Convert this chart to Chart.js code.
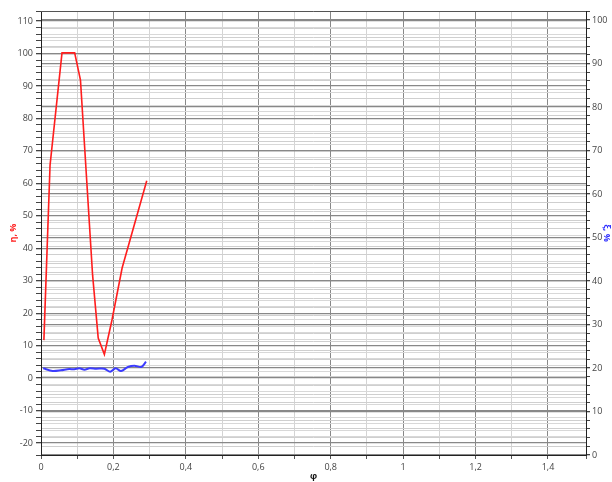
<!DOCTYPE html>
<html>
<head>
<meta charset="utf-8">
<script src="https://cdn.jsdelivr.net/npm/chart.js@4.4.1/dist/chart.umd.min.js"></script>
<style>
  html, body { margin: 0; padding: 0; background: #fff; }
  #wrap { width: 612px; height: 482px; position: relative; }
</style>
</head>
<body>
<div id="wrap"><canvas id="effChart"></canvas></div>
<script>
// red series: efficiency (left axis)
const etaX = [0.008, 0.025, 0.058, 0.093, 0.109, 0.1425, 0.158, 0.175, 0.196, 0.224, 0.292];
const etaValues = [11.7, 65.6, 100.2, 100.2, 91.8, 31.7, 12.3, 7.3, 17.9, 33.9, 60.8];

// blue series (right axis)
const xiX = [0.006, 0.032, 0.055, 0.078, 0.092, 0.106, 0.12, 0.134, 0.152, 0.175, 0.191, 0.206, 0.221, 0.24, 0.258, 0.277, 0.29];
const xiValues = [19.93, 19.31, 19.47, 19.77, 19.7, 19.93, 19.61, 19.93, 19.84, 19.84, 19.15, 19.93, 19.31, 20.23, 20.53, 20.23, 21.45];

const xLabelStep = 0.2;
const leftLabelStep = 10;
const rightLabelStep = 10;

const toPoints = (xs, ys) => xs.map((x, i) => ({ x: x, y: ys[i] }));

const isMajor = (v, step) => Math.abs(v / step - Math.round(v / step)) < 1e-6;

const tickFont = { family: "'Open Sans', 'DejaVu Sans', sans-serif", size: 9 };
const titleFont = { family: "'Open Sans', 'DejaVu Sans', sans-serif", size: 9, weight: 'bold' };

const frame = {
    id: 'frame',
    afterDraw(chart) {
        const { ctx, chartArea: a } = chart;
        ctx.save();
        ctx.strokeStyle = '#555';
        ctx.lineWidth = 1;
        ctx.beginPath();
        ctx.moveTo(a.left, a.top + 0.5);
        ctx.lineTo(a.right, a.top + 0.5);
        ctx.stroke();
        ctx.restore();
    }
};

const ctx = document.getElementById('effChart').getContext('2d');
new Chart(ctx, {
    type: 'line',
    data: {
        datasets: [
            {
                label: 'η',
                data: toPoints(etaX, etaValues),
                borderColor: 'rgba(255, 30, 30, 1)',
                borderWidth: 1.6,
                pointRadius: 0,
                tension: 0,
                yAxisID: 'y',
            },
            {
                label: 'ξ',
                data: toPoints(xiX, xiValues),
                borderColor: 'rgba(60, 60, 255, 1)',
                borderWidth: 2,
                pointRadius: 0,
                tension: 0.3,
                yAxisID: 'y2',
            },
        ],
    },
    options: {
        responsive: true,
        maintainAspectRatio: false,
        animation: false,
        layout: { padding: { top: 11, left: 0, right: 0, bottom: 0 } },
        plugins: {
            legend: { display: false },
            tooltip: { enabled: false },
        },
        scales: {
            x: {
                type: 'linear',
                min: 0,
                max: 1.505,
                border: { color: '#222' },
                afterFit: (s) => { s.height = 27; },
                ticks: {
                    stepSize: 0.1,
                    font: tickFont,
                    color: '#444',
                    padding: 3,
                    maxRotation: 0,
                    autoSkip: false,
                    callback: (v) => isMajor(v, xLabelStep) ? String(Math.round(v * 10) / 10).replace('.', ',') : '',
                },
                grid: {
                    color: (c) => isMajor(c.tick.value, xLabelStep) ? '#888' : '#d4d4d4',
                    tickColor: '#555',
                    tickLength: 4,
                },
                title: {
                    display: true,
                    text: 'φ',
                    color: '#111',
                    font: titleFont,
                    padding: { top: 0, bottom: 0 },
                },
            },
            y: {
                position: 'left',
                min: -23.7,
                max: 113.1,
                border: { color: '#222' },
                afterFit: (s) => { s.width = 41; },
                ticks: {
                    stepSize: 2,
                    font: tickFont,
                    color: '#444',
                    padding: 3,
                    autoSkip: false,
                    callback: (v) => isMajor(v, leftLabelStep) ? String(v) : '',
                },
                grid: {
                    color: (c) => isMajor(c.tick.value, leftLabelStep) ? '#888' : '#d8d8d8',
                    lineWidth: (c) => isMajor(c.tick.value, leftLabelStep) ? 1.3 : 1,
                    tickColor: '#444',
                    tickLength: 5,
                },
                title: {
                    display: true,
                    text: 'η, %',
                    color: '#ff2020',
                    font: titleFont,
                    padding: { top: 8, bottom: 0 },
                },
            },
            y2: {
                position: 'right',
                min: 0,
                max: 102.07,
                border: { color: '#222' },
                afterFit: (s) => { s.width = 26; },
                ticks: {
                    stepSize: 2,
                    font: tickFont,
                    color: '#444',
                    padding: 2,
                    autoSkip: false,
                    callback: (v) => isMajor(v, rightLabelStep) ? String(v) : '',
                },
                grid: {
                    color: (c) => isMajor(c.tick.value, rightLabelStep) ? '#888' : '#cfcfcf',
                    lineWidth: (c) => isMajor(c.tick.value, rightLabelStep) ? 1.3 : 1,
                    tickColor: '#444',
                    tickLength: 4,
                },
                title: {
                    display: true,
                    text: 'ξ, %',
                    color: '#3030ff',
                    font: titleFont,
                    padding: { top: 0, bottom: 0 },
                },
            },
        },
    },
    plugins: [frame],
});
</script>
</body>
</html>
